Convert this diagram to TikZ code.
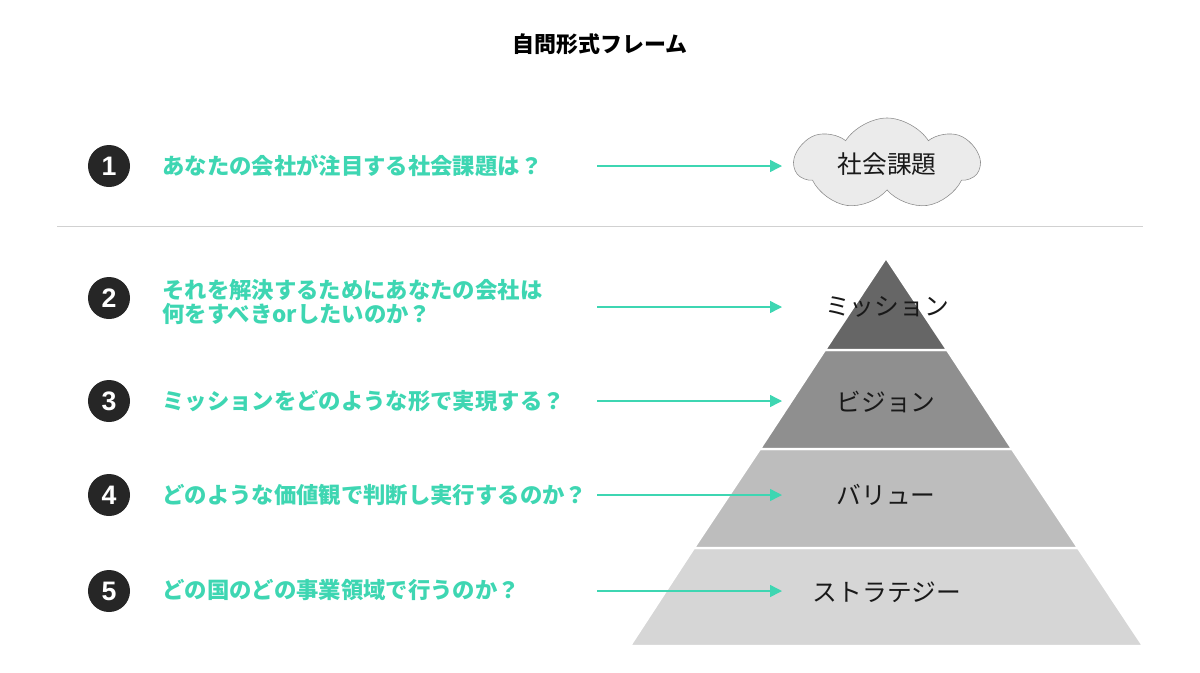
\documentclass[tikz,border=0pt]{standalone}
\usepackage{fontspec}
\setmainfont{Noto Sans CJK JP}
\newfontfamily\numfont{Liberation Sans}
\usetikzlibrary{arrows.meta,positioning,shapes.symbols}
\definecolor{qgreen}{RGB}{62,214,178}
\definecolor{layerA}{RGB}{102,102,102}
\definecolor{layerB}{RGB}{143,143,143}
\definecolor{layerC}{RGB}{189,189,189}
\definecolor{layerD}{RGB}{214,214,214}

\begin{document}
\begin{tikzpicture}[
    x=0.025cm, y=-0.025cm,
    num/.style={circle, fill=black!85, text=white, minimum size=1.05cm, inner sep=0pt, font=\numfont\bfseries\fontsize{19}{19}\selectfont},
    question/.style={anchor=west, inner sep=0pt, text=qgreen, align=left, font=\bfseries\fontsize{15.9}{17}\selectfont},
    level/.style={font=\fontsize{17.6}{20}\selectfont, text=black!90},
    layer/.style={draw=white, line width=1.5pt},
    arrow/.style={-{Triangle[length=8.5pt,width=8.5pt]}, qgreen, line width=1pt}
  ]
    \useasboundingbox (0,0) rectangle (1200,672);
    \node[font=\bfseries\fontsize{15.6}{17}\selectfont] (title) at (600,44) {自問形式フレーム};

    % questions
    \node[num] (n1) at (109,166) {1};
    \node[num] (n2) at (109,298) {2};
    \node[num] (n3) at (109,401) {3};
    \node[num] (n4) at (109,495) {4};
    \node[num] (n5) at (109,591) {5};
    \node[question] (q1) at (162,166) {あなたの会社が注目する社会課題は？};
    \node[question] (q2) at (162,302) {それを解決するためにあなたの会社は\\何をすべきorしたいのか？};
    \node[question] (q3) at (162,401) {ミッションをどのような形で実現する？};
    \node[question] (q4) at (162,495) {どのような価値観で判断し実行するのか？};
    \node[question] (q5) at (162,590) {どの国のどの事業領域で行うのか？};

    \draw[black!18, line width=0.7pt] (57,226) -- (1143,226);

    % pyramid
    \fill[layerD, layer] (630,646) -- (694,548) -- (1078,548) -- (1143,646) -- cycle;
    \fill[layerC, layer] (694,548) -- (760,449) -- (1012,449) -- (1078,548) -- cycle;
    \fill[layerB, layer] (760,449) -- (825,350) -- (947,350) -- (1012,449) -- cycle;
    \fill[layerA, layer] (825,350) -- (886,258) -- (947,350) -- cycle;

    \node[cloud, cloud puffs=7, cloud puff arc=115, cloud ignores aspect, draw=black!45, fill=black!8, minimum width=4.6cm, minimum height=2.3cm, level] (issue) at (887,164) {社会課題};
    \node[level] (mission) at (887,307) {ミッション};
    \node[level] (vision) at (886,402) {ビジョン};
    \node[level] (value) at (886,495) {バリュー};
    \node[level] (strategy) at (887,592) {ストラテジー};

    \coordinate (s1) at (597,166);
    \coordinate (e1) at (782,166);
    \coordinate (s2) at (597,307);
    \coordinate (e2) at (782,307);
    \coordinate (s3) at (597,401);
    \coordinate (e3) at (782,401);
    \coordinate (s4) at (597,495);
    \coordinate (e4) at (782,495);
    \coordinate (s5) at (597,591);
    \coordinate (e5) at (782,591);
    \draw[arrow] (s1) -- (e1);
    \draw[arrow] (s2) -- (e2);
    \draw[arrow] (s3) -- (e3);
    \draw[arrow] (s4) -- (e4);
    \draw[arrow] (s5) -- (e5);
  \end{tikzpicture}
\end{document}
